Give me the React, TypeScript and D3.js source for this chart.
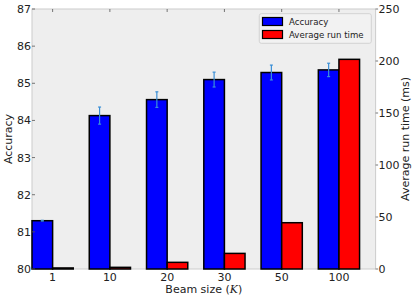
import React from 'react';
import * as d3 from 'd3';

const beamSizes = ['1', '10', '20', '30', '50', '100'];
const accuracy = [81.3, 84.13, 84.56, 85.1, 85.29, 85.36];
const accuracyErr = [0.01, 0.23, 0.21, 0.2, 0.2, 0.18];
const runTime = [1, 1.6, 6.4, 15, 44.5, 201.6];
const accTicks = [80, 81, 82, 83, 84, 85, 86, 87];
const timeTicks = [0, 50, 100, 150, 200, 250];

const W = 415;
const H = 300;
const left = 32;
const right = 375.6;
const top = 9;
const bottom = 269;
const barW = 0.36;
const font = 'DejaVu Sans, sans-serif';

const App = () => {
  const x = d3.scaleLinear().domain([0, beamSizes.length]).range([left, right]);
  const yAcc = d3.scaleLinear().domain([80, 87]).range([bottom, top]);
  const yTime = d3.scaleLinear().domain([0, 250]).range([bottom, top]);

  return (
    <svg width={W} height={H} style={{ position: 'absolute', left: 0, top: 0 }} fontFamily={font}>
      <rect x={0} y={0} width={W} height={H} fill="#fff" />
      <rect x={left} y={top} width={right - left} height={bottom - top} fill="#eeeeee" stroke="#cccccc" strokeWidth={1} />

      {/* accuracy bars */}
      {accuracy.map((v, i) => (
        <rect key={'a' + i} x={x(i)} y={yAcc(v)} width={x(barW) - x(0)} height={bottom - yAcc(v)}
          fill="#0000ff" stroke="#000" strokeWidth={1.5} />
      ))}
      {/* run time bars */}
      {runTime.map((v, i) => (
        <rect key={'t' + i} x={x(i + barW)} y={yTime(v)} width={x(barW) - x(0)} height={bottom - yTime(v)}
          fill="#ff0000" stroke="#000" strokeWidth={1.5} />
      ))}
      {/* error bars */}
      {accuracy.map((v, i) => {
        const cx = x(i + barW / 2);
        const y1 = yAcc(v + accuracyErr[i]);
        const y2 = yAcc(v - accuracyErr[i]);
        return (
          <g key={'e' + i} stroke="#3a8fd6" strokeWidth={1.2}>
            <line x1={cx} x2={cx} y1={y1} y2={y2} />
            <line x1={cx - 1.5} x2={cx + 1.5} y1={y1} y2={y1} />
            <line x1={cx - 1.5} x2={cx + 1.5} y1={y2} y2={y2} />
          </g>
        );
      })}

      {/* x ticks */}
      {beamSizes.map((s, i) => (
        <g key={'x' + i}>
          <line x1={x(i + barW)} x2={x(i + barW)} y1={top} y2={top + 3} stroke="#555" strokeWidth={0.8} />
          <text x={x(i + barW)} y={281} textAnchor="middle" fontSize={11} fill="#222">{s}</text>
        </g>
      ))}
      {/* left ticks */}
      {accTicks.map((t) => (
        <g key={'l' + t}>
          <line x1={left} x2={left + 3} y1={yAcc(t)} y2={yAcc(t)} stroke="#555" strokeWidth={0.8} />
          <text x={left - 1} y={yAcc(t) + 4} textAnchor="end" fontSize={11} fill="#222">{t}</text>
        </g>
      ))}
      {/* right ticks */}
      {timeTicks.map((t) => (
        <g key={'r' + t}>
          <line x1={right} x2={right + 2.5} y1={yTime(t)} y2={yTime(t)} stroke="#555" strokeWidth={0.8} />
          <text x={right + 3} y={yTime(t) + 4} textAnchor="start" fontSize={11} fill="#222">{t}</text>
        </g>
      ))}

      {/* axis labels */}
      <text x={(left + right) / 2} y={293} textAnchor="middle" fontSize={11} fill="#222">
        Beam size (<tspan fontStyle="italic" fontFamily="DejaVu Serif, serif">K</tspan>)
      </text>
      <text transform={`translate(12,${(top + bottom) / 2}) rotate(-90)`} textAnchor="middle" fontSize={11} fill="#222">
        Accuracy
      </text>
      <text transform={`translate(409,${(top + bottom) / 2}) rotate(-90)`} textAnchor="middle" fontSize={11} fill="#222">
        Average run time (ms)
      </text>

      {/* legend */}
      <g>
        <rect x={259.3} y={13.7} width={112} height={29.6} rx={2} fill="#f2f2f2" fillOpacity={0.9} stroke="#cccccc" strokeWidth={0.8} />
        <rect x={262.5} y={17.5} width={20} height={8} fill="#0000ff" stroke="#000" strokeWidth={1.2} />
        <text x={289} y={25} fontSize={8.6} fill="#222">Accuracy</text>
        <rect x={262.5} y={30.5} width={20} height={8} fill="#ff0000" stroke="#000" strokeWidth={1.2} />
        <text x={289} y={38} fontSize={8.6} fill="#222">Average run time</text>
      </g>
    </svg>
  );
};

export default App;
